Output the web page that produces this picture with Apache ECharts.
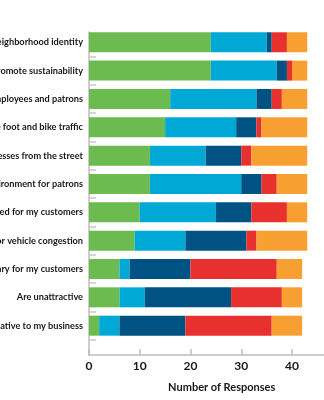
<!DOCTYPE html>
<html>
<head>
<meta charset="utf-8">
<script src="https://cdn.jsdelivr.net/npm/echarts@6/dist/echarts.min.js"></script>
<style>
html,body{margin:0;padding:0;background:#fff;}
#chart{width:324px;height:400px;}
</style>
</head>
<body>
<div id="chart"></div>
<script>
var categories = [
  "Contribute to neighborhood identity",
  "Promote sustainability",
  "Provide space for employees and patrons",
  "Increase foot and bike traffic",
  "Hide businesses from the street",
  "Improve the environment for patrons",
  "Take parking needed for my customers",
  "Cause traffic or vehicle congestion",
  "Remove parking necessary for my customers",
  "Are unattractive",
  "Are not important relative to my business"
];
var seriesNames = ["Strongly Agree", "Agree", "Neutral", "Disagree", "Don't Know"];
var stronglyAgree = [24, 24, 16, 15, 12, 12, 10, 9, 6, 6, 2];
var agree         = [11, 13, 17, 14, 11, 18, 15, 10, 2, 5, 4];
var neutral       = [1, 2, 3, 4, 7, 4, 7, 12, 12, 17, 13];
var disagree      = [3, 1, 2, 1, 2, 3, 7, 2, 17, 10, 17];
var dontKnow      = [4, 3, 5, 9, 11, 6, 4, 10, 5, 4, 6];
var xTicks = [0, 10, 20, 30, 40];
var axisTitle = "Number of Responses";

var colors = ["#6cbb50", "#00a9d5", "#005283", "#e8302e", "#f79f31"];
var values = [stronglyAgree, agree, neutral, disagree, dontKnow];
var unit = 5.075, xMax = 50;
var gridW = unit * xMax;
var slot = 28.34;

var chart = echarts.init(document.getElementById('chart'), null, {renderer: 'canvas'});
var series = values.map(function (arr, i) {
  return {
    name: seriesNames[i], type: 'bar', stack: 'total',
    xAxisIndex: 0, yAxisIndex: 0,
    barWidth: 20, silent: true,
    itemStyle: {color: colors[i]},
    data: arr
  };
});
chart.setOption({
  animation: false,
  grid: [
    {left: 89, top: 28.1, width: gridW, height: slot * categories.length, containLabel: false, outerBoundsMode: 'none'},
    {left: 89, top: 32, width: gridW, height: 323, containLabel: false, outerBoundsMode: 'none'}
  ],
  xAxis: [
    {gridIndex: 0, type: 'value', min: 0, max: xMax, show: false},
    {gridIndex: 1, type: 'value', min: 0, max: xMax, interval: 10,
     axisLine: {show: true, lineStyle: {color: '#bdbdbd', width: 1.5}},
     axisTick: {show: true, inside: true, length: 6, lineStyle: {color: '#bdbdbd', width: 1.5}},
     splitLine: {show: false},
     axisLabel: {fontFamily: 'Lato', fontWeight: 'bold', fontSize: 12, color: '#1a1718', margin: 5,
       formatter: function (v) { return xTicks.indexOf(v) >= 0 ? String(v) : ''; }}
    }
  ],
  yAxis: [
    {gridIndex: 0, type: 'category', inverse: true, data: categories,
     axisLine: {show: false},
     axisTick: {show: true, inside: true, length: 7, interval: function (idx) { return idx > 0; },
       lineStyle: {color: '#c8c8c8', width: 1.5}},
     axisLabel: {fontFamily: 'Lato', fontWeight: 'bold', fontSize: 9.2, color: '#1a1718', margin: 6}
    },
    {gridIndex: 1, type: 'value', min: 0, max: 1,
     axisLine: {show: true, lineStyle: {color: '#bdbdbd', width: 1.5}},
     axisTick: {show: false}, axisLabel: {show: false}, splitLine: {show: false}
    }
  ],
  title: {
    text: axisTitle, left: 216.7, top: 377, textAlign: 'center',
    textStyle: {fontFamily: 'Lato', fontWeight: 'bold', fontSize: 11, color: '#1a1718'}
  },
  series: series
});
</script>
</body>
</html>
